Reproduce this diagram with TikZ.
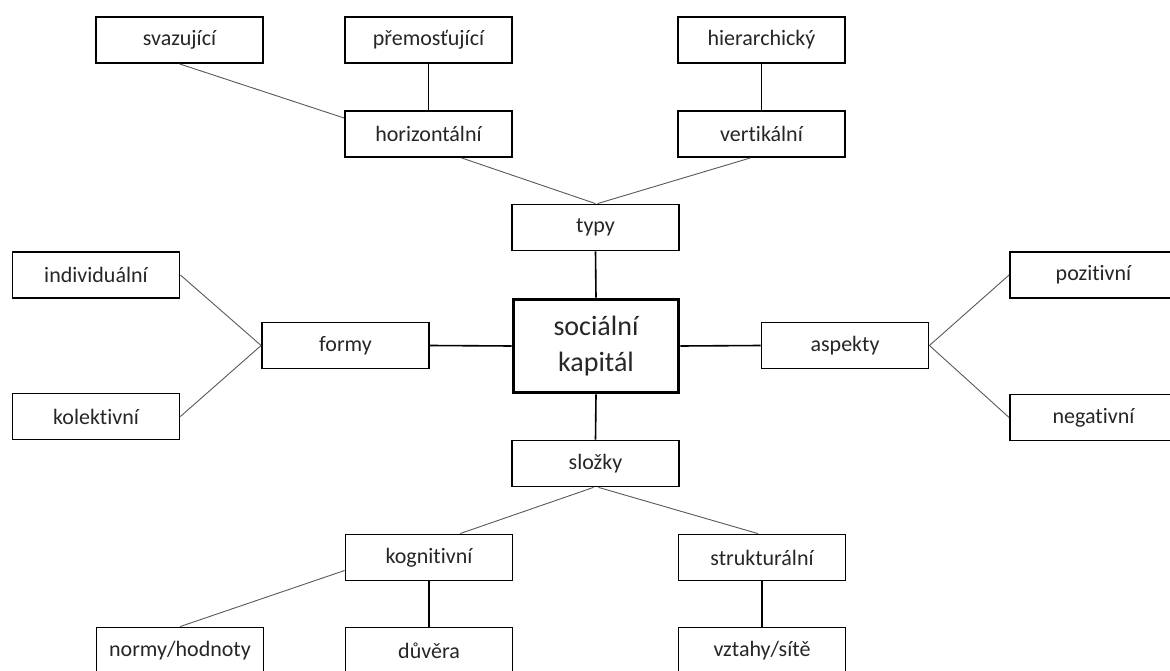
\documentclass[tikz,border=0pt]{standalone}
\usepackage{fontspec}
\setmainfont{Carlito}[Ligatures=NoCommon]
\definecolor{txt}{HTML}{262626}
\begin{document}
\begin{tikzpicture}[x=1pt,y=-1pt,
  box/.style={draw=black,line width=1.8pt,minimum width=167pt,minimum height=46pt,
    inner sep=0pt,font=\fontsize{22}{26}\selectfont,text=txt},
  mainbox/.style={draw=black,line width=3.6pt,minimum width=165pt,minimum height=93pt,
    inner sep=0pt,align=center,font=\fontsize{28}{36}\selectfont,text=txt},
  thin/.style={draw=black!65,line width=0.9pt},
  thick/.style={draw=black,line width=1.6pt}]
\path[use as bounding box,clip] (0,0) rectangle (1170,671);
\fill[white] (0,0) rectangle (1170,671);
\node[box] (svaz) at (179.5,40) {svazující};
\node[box] (prem) at (428.5,40) {přemosťující};
\node[box] (hier) at (761.5,40) {hierarchický};
\node[box] (horiz) at (428.5,134) {horizontální};
\node[box] (vert) at (761.5,134) {vertikální};
\node[box] (typy) at (595.5,227.5) {typy};
\node[mainbox] (sk) at (596,346) {sociální\\kapitál};
\node[box] (formy) at (345.5,345.5) {formy};
\node[box] (indiv) at (96,275) {individuální};
\node[box] (kolek) at (96,416.5) {kolektivní};
\node[box] (asp) at (845,345.5) {aspekty};
\node[box] (poz) at (1093.5,275) {pozitivní};
\node[box] (neg) at (1093.5,417.5) {negativní};
\node[box] (slo) at (595.5,463.5) {složky};
\node[box] (kog) at (429,557.5) {kognitivní};
\node[box] (str) at (762,557.5) {strukturální};
\node[box] (norm) at (180,650.5) {normy/hodnoty};
\node[box] (duv) at (429,650.5) {důvěra};
\node[box] (vzt) at (762,650.5) {vztahy/sítě};
% connectors
\draw[thin] (svaz.south) -- ([yshift=16pt]horiz.west);
\draw[thick] (prem.south) -- (horiz.north);
\draw[thick] (hier.south) -- (vert.north);
\draw[thin] ([xshift=33pt]horiz.south) -- (typy.north);
\draw[thin] ([xshift=-11pt]vert.south) -- ([xshift=2pt]typy.north);
\draw[thick] (typy.south) -- (sk.north);
\draw[thin] (indiv.east) -- (formy.west);
\draw[thin] (kolek.east) -- (formy.west);
\draw[thick] (formy.east) -- (sk.west);
\draw[thick] (sk.east) -- (asp.west);
\draw[thin] (asp.east) -- (poz.west);
\draw[thin] (asp.east) -- (neg.west);
\draw[thick] (sk.south) -- (slo.north);
\draw[thin] ([xshift=-2pt]slo.south) -- ([xshift=31pt]kog.north);
\draw[thin] ([xshift=3pt]slo.south) -- ([xshift=-4pt]str.north);
\draw[thin] ([yshift=-13pt]kog.west) -- (norm.north);
\draw[thick] (kog.south) -- (duv.north);
\draw[thick] (str.south) -- (vzt.north);
\end{tikzpicture}
\end{document}
